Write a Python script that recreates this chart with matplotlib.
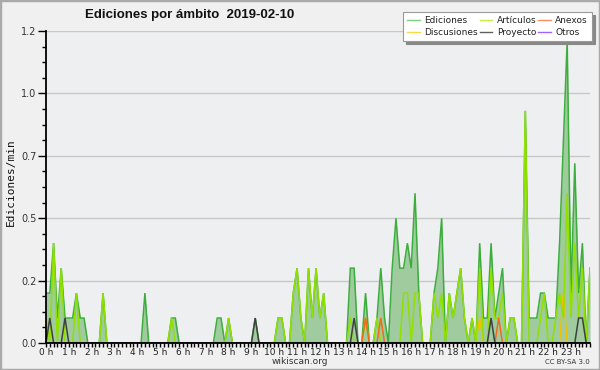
import numpy as np
import matplotlib
matplotlib.use("Agg")
import matplotlib.pyplot as plt
from matplotlib.ticker import MultipleLocator
from matplotlib.lines import Line2D
from matplotlib.patches import Rectangle

title = "Ediciones por ámbito  2019-02-10"
ylabel = "Ediciones/min"
hour_labels = [f"{h} h" for h in range(24)]
ytick_values = [0.0, 0.25, 0.5, 0.75, 1.0, 1.25]
ytick_labels = ["0.0", "0.2", "0.5", "0.7", "1.0", "1.2"]

# one value per 10 minutes, one row per hour
ediciones = [
    0.2, 0.2, 0.4, 0.1, 0.3, 0.1,
    0.1, 0.1, 0.2, 0.1, 0.1, 0,
    0, 0, 0, 0.2, 0, 0,
    0, 0, 0, 0, 0, 0,
    0, 0, 0.2, 0, 0, 0,
    0, 0, 0, 0.1, 0.1, 0,
    0, 0, 0, 0, 0, 0,
    0, 0, 0, 0.1, 0.1, 0,
    0.1, 0, 0, 0, 0, 0,
    0, 0.1, 0, 0, 0, 0,
    0, 0.1, 0.1, 0, 0, 0.2,
    0.3, 0.1, 0, 0.3, 0.1, 0.3,
    0.1, 0.2, 0, 0, 0, 0,
    0, 0, 0.3, 0.3, 0, 0,
    0.2, 0, 0, 0.1, 0.3, 0.1,
    0, 0.3, 0.5, 0.3, 0.3, 0.4,
    0.3, 0.6, 0.2, 0, 0, 0,
    0.2, 0.3, 0.5, 0, 0.2, 0.1,
    0.2, 0.3, 0.1, 0, 0.1, 0,
    0.4, 0.1, 0.1, 0.4, 0.1, 0.2,
    0.3, 0, 0.1, 0.1, 0, 0,
    0.93, 0.1, 0.1, 0.1, 0.2, 0.2,
    0.1, 0.1, 0.1, 0.4, 0.8, 1.21,
    0.2, 0.72, 0.2, 0.4, 0, 0.3,
]
articulos = [
    0.1, 0, 0.4, 0, 0.3, 0,
    0, 0, 0.2, 0, 0, 0,
    0, 0, 0, 0.2, 0, 0,
    0, 0, 0, 0, 0, 0,
    0, 0, 0, 0, 0, 0,
    0, 0, 0, 0.1, 0, 0,
    0, 0, 0, 0, 0, 0,
    0, 0, 0, 0, 0, 0,
    0.1, 0, 0, 0, 0, 0,
    0, 0, 0, 0, 0, 0,
    0, 0.1, 0.1, 0, 0, 0.2,
    0.3, 0.1, 0, 0.3, 0.1, 0.3,
    0.1, 0.2, 0, 0, 0, 0,
    0, 0, 0.1, 0, 0, 0,
    0.1, 0, 0, 0.1, 0, 0,
    0, 0, 0, 0, 0.2, 0.2,
    0, 0.2, 0.2, 0, 0, 0,
    0.2, 0.1, 0.2, 0, 0.2, 0.1,
    0.2, 0.3, 0.1, 0, 0.1, 0,
    0.3, 0, 0, 0.3, 0.1, 0.1,
    0.2, 0, 0.1, 0.1, 0, 0,
    0.93, 0, 0, 0, 0.1, 0.2,
    0, 0, 0.1, 0.2, 0.1, 0.6,
    0.1, 0.4, 0.1, 0.3, 0, 0.3,
]
# sparse series: {10-minute slot: value}
discusiones_nz = {114: 0.1, 136: 0.2}
anexos_nz = {84: 0.1, 88: 0.1, 119: 0.1}
proyecto_nz = {1: 0.1, 5: 0.1, 55: 0.1, 81: 0.1, 117: 0.1, 140: 0.1, 141: 0.1}
otros_nz = {}

n = len(ediciones)
def dense(d):
    a = np.zeros(n)
    for k, v in d.items():
        a[k] = v
    return a

x = np.arange(n) / 6.0
ed = np.array(ediciones)
art = np.array(articulos)
disc = dense(discusiones_nz)
anex = dense(anexos_nz)
proy = dense(proyecto_nz)
otros = dense(otros_nz)

c_ed = "#3cae3c"
c_fill = "#9fcb9f"
c_disc = "#f2c200"
c_art = "#90e000"
c_proy = "#404040"
c_anex = "#f26a1b"
c_otros = "#9b4dff"

fig = plt.figure(figsize=(6, 3.7), dpi=100, facecolor="#f0f0f0")
ax = fig.add_axes([46/600, 1-343/370, (590-46)/600, (343-31)/370])
ax.set_facecolor("#eeeff1")

lw = 1.1
ax.fill_between(x, ed, 0, color=c_fill, lw=0, zorder=1)
ax.plot(x, ed, color=c_ed, lw=lw, zorder=2, solid_joinstyle="miter")
ax.plot(x, disc, color=c_disc, lw=lw, zorder=2.1, solid_joinstyle="miter")
ax.plot(x, art, color=c_art, lw=lw, zorder=2.2, solid_joinstyle="miter")
ax.plot(x, anex, color=c_anex, lw=lw, zorder=2.3, solid_joinstyle="miter")
ax.plot(x, otros, color=c_otros, lw=lw, zorder=2.3, solid_joinstyle="miter")
ax.plot(x, proy, color=c_proy, lw=lw, zorder=2.4, solid_joinstyle="miter")

ax.set_xlim(0, (n - 1) / 6.0)
ax.set_ylim(0, 1.25)
ax.set_xticks(range(24))
ax.set_xticklabels(hour_labels)
ax.xaxis.set_minor_locator(MultipleLocator(1/6))
ax.set_yticks(ytick_values)
ax.set_yticklabels(ytick_labels)
ax.yaxis.set_minor_locator(MultipleLocator(0.0625))
ax.yaxis.grid(True, color="#c8c8c8", lw=1, zorder=0.5)
ax.set_axisbelow(True)

for s in ["top", "right"]:
    ax.spines[s].set_visible(False)
for s in ["left", "bottom"]:
    ax.spines[s].set_linewidth(1.3)
    ax.spines[s].set_color("black")
    ax.spines[s].set_zorder(5)

ax.tick_params(axis="y", which="major", direction="out", length=6, width=1,
               labelsize=7, pad=1, labelcolor="#333333")
ax.tick_params(axis="y", which="minor", direction="out", length=3, width=1)
ax.tick_params(axis="x", which="both", direction="out", length=3, width=1,
               labelsize=6.5, pad=0.5, labelcolor="#222222")

fig.text(85/600, 1-15/370, title, fontsize=9.5, fontweight="bold",
         family="Liberation Sans", ha="left", va="center", color="#111111")
fig.text(11/600, 1-182/370, ylabel, rotation=90, fontsize=8,
         family="DejaVu Sans Mono", ha="center", va="center", color="#111111")
fig.text(300/600, 1-362/370, "wikiscan.org", fontsize=6.5, ha="center",
         va="center", color="#333333")
fig.text(590/600, 1-362/370, "CC BY-SA 3.0", fontsize=5, ha="right",
         va="center", color="#333333")

handles = [
    Line2D([], [], color="#7fcf7f", lw=1),
    Line2D([], [], color="#ffd84a", lw=1),
    Line2D([], [], color="#c6ee4a", lw=1),
    Line2D([], [], color="#606060", lw=1),
    Line2D([], [], color="#f79060", lw=1),
    Line2D([], [], color="#a066ff", lw=1),
]
labels = ["Ediciones", "Discusiones", "Artículos", "Proyecto", "Anexos", "Otros"]
leg = fig.legend(handles, labels, ncol=3, loc="upper right",
                 bbox_to_anchor=(592/600, 1-12/370), fontsize=6.5,
                 frameon=True, fancybox=False, handlelength=1.4,
                 handletextpad=0.5, columnspacing=0.2, labelspacing=0.35,
                 borderpad=0.45, borderaxespad=0,
                 shadow={"facecolor": "#888888", "edgecolor": "#888888", "alpha": 1})
leg.get_frame().set_edgecolor("#999999")
leg.get_frame().set_linewidth(0.8)
leg.get_frame().set_facecolor("white")
for t in leg.get_texts():
    t.set_color("#222222")

fig.add_artist(Rectangle((0, 0), 1, 1, transform=fig.transFigure, fill=False,
                         edgecolor="#aaaaaa", lw=2.5))

fig.savefig("out.png", dpi=100, facecolor=fig.get_facecolor())
